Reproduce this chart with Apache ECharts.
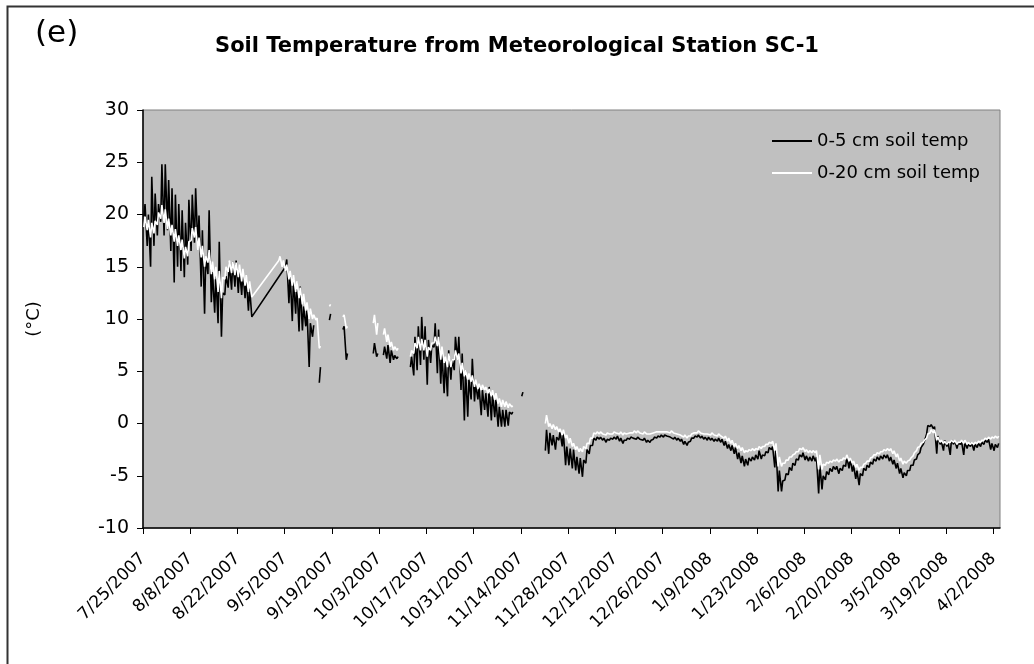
<!DOCTYPE html>
<html>
<head>
<meta charset="utf-8">
<script src="https://cdn.jsdelivr.net/npm/echarts@6/dist/echarts.min.js"></script>
<style>
  html, body { margin: 0; padding: 0; background: #fff; }
  #chart { width: 1034px; height: 664px; }
</style>
</head>
<body>
<div id="chart"></div>
<script>
// x axis: days counted from 7/25/2007, one tick every 14 days
const tickStep = 14;
const tickLabels = ['7/25/2007', '8/8/2007', '8/22/2007', '9/5/2007', '9/19/2007', '10/3/2007',
  '10/17/2007', '10/31/2007', '11/14/2007', '11/28/2007', '12/12/2007', '12/26/2007',
  '1/9/2008', '1/23/2008', '2/6/2008', '2/20/2008', '3/5/2008', '3/19/2008', '4/2/2008'];

// daily high / low, index = day, null = no data
const hi5 = [
  21.0, 20.0, 23.6, 22.0, 21.0, 24.8, 24.8, 23.3, 22.5, 21.9,
  21.0, 20.4, 19.2, 21.4, 21.9, 22.5, 19.9, 18.5, 15.9, 20.4,
  14.5, 14.2, 17.4, 12.5, 14.1, 15.4, 15.5, 15.6, 14.8, 14.5,
  13.9, 13.0, 10.2, null, null, null, null, null, null, null,
  null, null, 15.7, 14.4, 13.8, 13.5, 13.1, 11.2, 10.9, 9.6,
  9.4, null, 5.4, null, null, 10.5, null, null, null, 9.3,
  6.7, null, null, null, null, null, null, null, 7.7, 6.7,
  null, 7.35, 7.5, 7.0, 6.5, 6.4, null, null, null, 6.4,
  8.3, 9.3, 10.2, 9.3, 8.0, 7.5, 9.6, 9.0, 6.7, 6.1,
  7.0, 6.1, 8.3, 8.3, 6.7, 5.1, 4.2, 6.2, 3.8, 3.5,
  3.2, 2.9, 3.5, 2.9, 2.3, 1.6, 1.3, 1.3, 1.1, 1.1,
  null, null, 3.0, null, null, null, null, null, null, -0.6,
  -0.9, -1.1, -1.3, -0.8, -0.9, -2.2, -2.4, -2.5, -3.2, -3.3,
  -3.5, -2.5, -2.1, -1.4, -1.3, -1.3, -1.4, -1.5, -1.4, -1.3,
  -1.2, -1.4, -1.6, -1.4, -1.3, -1.3, -1.3, -1.4, -1.4, -1.6,
  -1.6, -1.3, -1.2, -1.1, -1.1, -1.1, -1.2, -1.3, -1.4, -1.5,
  -1.7, -1.8, -1.4, -1.2, -1.1, -1.2, -1.3, -1.3, -1.4, -1.5,
  -1.4, -1.5, -1.7, -2.0, -2.1, -2.3, -2.8, -3.1, -3.4, -3.3,
  -3.2, -3.0, -2.6, -3.0, -2.7, -2.3, -2.2, -2.3, -4.5, -5.5,
  -4.8, -4.2, -3.8, -3.4, -3.0, -2.8, -3.1, -3.2, -3.1, -3.2,
  -4.0, -5.0, -4.6, -4.3, -4.1, -4.1, -4.3, -4.0, -3.2, -3.4,
  -4.0, -4.5, -4.8, -4.3, -4.0, -3.7, -3.4, -3.2, -3.1, -3.0,
  -3.0, -3.2, -3.5, -3.8, -4.3, -4.7, -4.5, -4.0, -3.5, -3.0,
  -2.3, -1.7, -0.2, -0.1, -0.3, -1.2, -1.7, -1.6, -1.8, -1.6,
  -1.6, -1.9, -1.7, -1.8, -2.0, -1.8, -2.0, -1.9, -1.8, -1.6,
  -1.5, -1.9, -2.0, -1.9
];
const lo5 = [
  19.8, 17.0, 15.0, 17.0, 18.0, 19.3, 18.0, 18.5, 16.5, 13.5,
  15.0, 14.6, 14.0, 15.2, 16.5, 17.3, 16.9, 13.1, 10.5, 14.3,
  11.6, 10.6, 9.6, 8.3, 12.3, 13.0, 12.8, 13.1, 12.5, 12.3,
  12.0, 10.8, 10.2, null, null, null, null, null, null, null,
  null, null, 15.0, 11.5, 9.8, 10.5, 8.8, 8.9, 9.3, 5.4,
  8.3, null, 3.9, null, null, 9.9, null, null, null, 9.0,
  6.1, null, null, null, null, null, null, null, 6.7, 6.4,
  null, 6.55, 6.2, 5.8, 6.1, 6.2, null, null, null, 5.4,
  4.6, 5.1, 5.6, 6.1, 3.7, 5.8, 7.3, 4.8, 3.8, 2.9,
  2.6, 4.2, 5.1, 6.1, 3.2, 0.3, 0.65, 2.3, 2.1, 2.3,
  0.8, 1.3, 0.65, 0.3, 0.6, -0.3, -0.3, -0.3, -0.2, 0.9,
  null, null, 2.6, null, null, null, null, null, null, -2.6,
  -2.9, -2.1, -2.5, -1.6, -2.2, -4.0, -4.0, -4.3, -4.5, -4.8,
  -5.1, -3.8, -2.9, -2.1, -1.6, -1.5, -1.6, -1.8, -1.6, -1.5,
  -1.5, -1.7, -1.9, -1.6, -1.5, -1.4, -1.5, -1.5, -1.6, -1.8,
  -1.8, -1.5, -1.4, -1.3, -1.3, -1.2, -1.3, -1.5, -1.6, -1.7,
  -2.0, -2.1, -1.7, -1.4, -1.3, -1.4, -1.5, -1.6, -1.6, -1.7,
  -1.7, -1.8, -2.1, -2.4, -2.6, -2.9, -3.4, -3.8, -4.1, -4.0,
  -3.6, -3.5, -3.4, -3.4, -3.1, -2.8, -2.5, -4.2, -6.5, -6.5,
  -5.4, -4.9, -4.5, -4.0, -3.5, -3.2, -3.5, -3.6, -3.6, -3.6,
  -6.7, -6.3, -5.4, -4.9, -4.6, -4.4, -4.8, -4.5, -4.1, -4.3,
  -4.6, -5.3, -5.9, -5.0, -4.5, -4.2, -3.9, -3.6, -3.5, -3.4,
  -3.3, -3.6, -3.9, -4.3, -4.8, -5.2, -5.0, -4.5, -4.0, -3.4,
  -2.8, -2.0, -1.0, -0.3, -0.5, -2.9, -2.0, -2.6, -2.2, -3.0,
  -2.0, -2.4, -2.0, -3.0, -2.4, -2.2, -2.6, -2.3, -2.2, -2.0,
  -1.8, -2.5, -2.6, -2.3
];
const hi20 = [
  19.8, 19.5, 19.2, 19.4, 20.2, 20.9, 20.5, 19.6, 19.0, 18.6,
  18.0, 17.6, 16.9, 17.4, 18.7, 18.8, 17.8, 17.0, 16.0, 16.6,
  15.5, 15.0, 14.6, 14.0, 15.0, 15.6, 15.5, 15.4, 15.2, 14.8,
  14.2, 13.6, 12.1, null, null, null, null, null, null, null,
  16.0, 15.6, 15.2, 14.6, 14.2, 13.6, 13.0, 12.4, 11.6, 11.0,
  10.4, 10.1, 7.4, null, null, 11.4, null, null, null, 10.4,
  9.3, null, null, null, null, null, null, null, 10.4, 9.6,
  null, 9.1, 8.5, 7.8, 7.35, 7.2, null, null, null, 7.0,
  7.7, 8.3, 8.1, 8.0, 7.3, 7.7, 8.3, 8.3, 7.35, 6.4,
  6.7, 6.1, 7.0, 6.7, 5.8, 5.1, 4.8, 4.6, 4.2, 3.8,
  3.7, 3.5, 3.3, 3.2, 2.9, 2.4, 2.25, 2.1, 1.9, 1.7,
  null, null, null, null, null, null, null, null, null, 0.8,
  0.0, -0.1, -0.3, -0.5, -0.6, -1.1, -1.4, -1.9, -2.2, -2.4,
  -2.2, -1.9, -1.4, -0.9, -0.8, -0.8, -0.9, -0.9, -0.9, -0.8,
  -0.8, -0.8, -0.9, -0.9, -0.8, -0.7, -0.7, -0.8, -0.8, -0.9,
  -0.9, -0.8, -0.7, -0.7, -0.7, -0.7, -0.7, -0.8, -0.9, -1.0,
  -1.1, -1.2, -1.0, -0.8, -0.7, -0.8, -0.9, -0.9, -0.9, -1.0,
  -1.0, -1.1, -1.2, -1.4, -1.6, -1.9, -2.1, -2.3, -2.6, -2.5,
  -2.4, -2.4, -2.2, -2.2, -2.0, -1.8, -1.7, -1.9, -3.2, -3.8,
  -3.5, -3.2, -3.0, -2.7, -2.4, -2.3, -2.5, -2.6, -2.6, -2.6,
  -3.0, -3.9, -3.7, -3.6, -3.5, -3.4, -3.5, -3.3, -3.0, -3.3,
  -3.6, -3.9, -4.2, -3.9, -3.6, -3.3, -3.0, -2.8, -2.7, -2.5,
  -2.4, -2.4, -2.6, -2.9, -3.3, -3.6, -3.6, -3.3, -2.8, -2.3,
  -1.9, -1.6, -1.0, -0.6, -0.6, -1.3, -1.6, -1.7, -1.8, -1.6,
  -1.6, -1.8, -1.6, -1.6, -1.8, -1.8, -1.8, -1.7, -1.6, -1.4,
  -1.3, -1.3, -1.2, -1.2
];
const lo20 = [
  18.8, 18.5, 17.8, 18.2, 19.0, 19.6, 19.2, 18.6, 18.0, 17.4,
  17.0, 16.6, 15.8, 16.0, 17.5, 17.8, 16.6, 15.9, 15.0, 15.4,
  14.3, 13.8, 12.6, 12.0, 13.8, 14.5, 14.4, 14.2, 14.0, 13.6,
  13.2, 12.6, 12.1, null, null, null, null, null, null, null,
  15.6, 15.0, 14.6, 13.8, 13.2, 12.6, 12.0, 11.4, 10.8, 10.0,
  10.0, 9.9, 7.2, null, null, 11.2, null, null, null, 10.2,
  9.1, null, null, null, null, null, null, null, 9.6, 8.5,
  null, 8.5, 7.8, 7.35, 7.0, 7.0, null, null, null, 6.4,
  6.7, 7.2, 7.0, 7.0, 6.4, 7.0, 7.7, 7.4, 6.1, 5.8,
  5.4, 5.4, 6.1, 6.1, 4.8, 4.5, 4.2, 4.0, 3.5, 3.3,
  3.2, 3.2, 2.9, 2.6, 2.25, 1.9, 1.6, 1.6, 1.5, 1.6,
  null, null, null, null, null, null, null, null, null, 0.0,
  -0.3, -0.5, -0.6, -0.8, -1.1, -1.4, -1.9, -2.2, -2.5, -2.7,
  -2.7, -2.4, -1.9, -1.4, -1.0, -1.0, -1.0, -1.1, -1.0, -1.0,
  -0.9, -1.0, -1.1, -1.0, -0.9, -0.9, -0.9, -0.9, -1.0, -1.0,
  -1.0, -0.9, -0.8, -0.8, -0.8, -0.8, -0.9, -0.9, -1.0, -1.1,
  -1.3, -1.4, -1.2, -0.9, -0.9, -0.9, -1.0, -1.0, -1.1, -1.1,
  -1.2, -1.2, -1.4, -1.7, -1.9, -2.2, -2.4, -2.6, -2.8, -2.7,
  -2.6, -2.6, -2.5, -2.4, -2.2, -2.0, -1.9, -2.6, -4.1, -4.1,
  -3.8, -3.5, -3.2, -2.9, -2.7, -2.5, -2.7, -2.8, -2.8, -2.8,
  -4.4, -4.4, -4.0, -3.8, -3.7, -3.6, -3.7, -3.5, -3.4, -3.6,
  -3.8, -4.2, -4.5, -4.2, -3.8, -3.6, -3.2, -3.0, -2.9, -2.7,
  -2.6, -2.6, -2.9, -3.2, -3.6, -3.9, -3.8, -3.5, -3.1, -2.6,
  -2.2, -1.8, -1.4, -0.9, -0.9, -1.6, -1.8, -1.9, -2.0, -1.8,
  -1.8, -2.0, -1.8, -1.9, -2.0, -2.0, -2.0, -1.9, -1.8, -1.6,
  -1.5, -1.5, -1.4, -1.4
];
// days with no rows at all in the record: the line runs straight across them
const noRecord5 = [33, 41];
const noRecord20 = [33, 39];

// low in the early morning, high in the afternoon; null breaks the line
function buildSeries(lo, hi, skip) {
  const out = [];
  for (let d = 0; d < lo.length; d++) {
    if (d >= skip[0] && d <= skip[1]) continue;
    if (lo[d] == null) {
      out.push([d + 0.5, null]);
      continue;
    }
    out.push([d + 0.25, lo[d]]);
    out.push([d + 0.6, hi[d]]);
  }
  return out;
}

const font = 'DejaVu Sans';
const tickValues = tickLabels.map((_, i) => i * tickStep);

const chart = echarts.init(document.getElementById('chart'));
chart.setOption({
  animation: false,
  backgroundColor: '#fff',
  textStyle: { fontFamily: font, color: '#000' },
  title: {
    text: 'Soil Temperature from Meteorological Station SC-1',
    left: 'center',
    top: 31,
    textStyle: { fontFamily: font, fontSize: 21, fontWeight: 'bold', color: '#000' }
  },
  graphic: [
    {
      type: 'rect', left: 5, top: 4, silent: true, z: -10,
      shape: { width: 1100, height: 800 },
      style: { fill: 'none', stroke: '#333', lineWidth: 2 }
    },
    {
      type: 'text', left: 35, top: 18,
      style: { text: '(e)', fontSize: 31, fontFamily: font, fill: '#000' }
    }
  ],
  legend: {
    orient: 'vertical',
    left: 767,
    top: 127,
    icon: 'rect',
    itemWidth: 40,
    itemHeight: 2,
    itemGap: 14,
    textStyle: { fontFamily: font, fontSize: 18, color: '#000' },
    data: ['0-5 cm soil temp', '0-20 cm soil temp']
  },
  grid: {
    left: 143, top: 110, right: 34, bottom: 136,
    show: true,
    backgroundColor: '#c0c0c0',
    borderColor: '#808080',
    borderWidth: 1
  },
  xAxis: {
    type: 'value',
    min: 0,
    max: 254,
    splitLine: { show: false },
    axisLine: { onZero: false, lineStyle: { color: '#000', width: 1.5 } },
    axisTick: { customValues: tickValues, length: 6, lineStyle: { color: '#000' } },
    axisLabel: {
      customValues: tickValues,
      rotate: 45,
      margin: 28,
      fontFamily: font,
      fontSize: 17,
      color: '#000',
      formatter: v => tickLabels[Math.round(v / tickStep)]
    }
  },
  yAxis: {
    type: 'value',
    min: -10,
    max: 30,
    interval: 5,
    name: '(°C)',
    nameLocation: 'middle',
    nameRotate: 90,
    nameGap: 100,
    nameTextStyle: { fontFamily: font, fontSize: 18, color: '#000' },
    splitLine: { show: false },
    axisLine: { show: true, lineStyle: { color: '#000', width: 1.5 } },
    axisTick: { show: true, length: 6, lineStyle: { color: '#000' } },
    axisLabel: { margin: 14, fontFamily: font, fontSize: 19, color: '#000' }
  },
  series: [
    {
      name: '0-5 cm soil temp',
      type: 'line',
      symbol: 'none',
      connectNulls: false,
      lineStyle: { color: '#000', width: 1.6 },
      itemStyle: { color: '#000' },
      data: buildSeries(lo5, hi5, noRecord5)
    },
    {
      name: '0-20 cm soil temp',
      type: 'line',
      symbol: 'none',
      connectNulls: false,
      lineStyle: { color: '#fff', width: 1.6 },
      itemStyle: { color: '#fff' },
      data: buildSeries(lo20, hi20, noRecord20)
    }
  ]
});
</script>
</body>
</html>
